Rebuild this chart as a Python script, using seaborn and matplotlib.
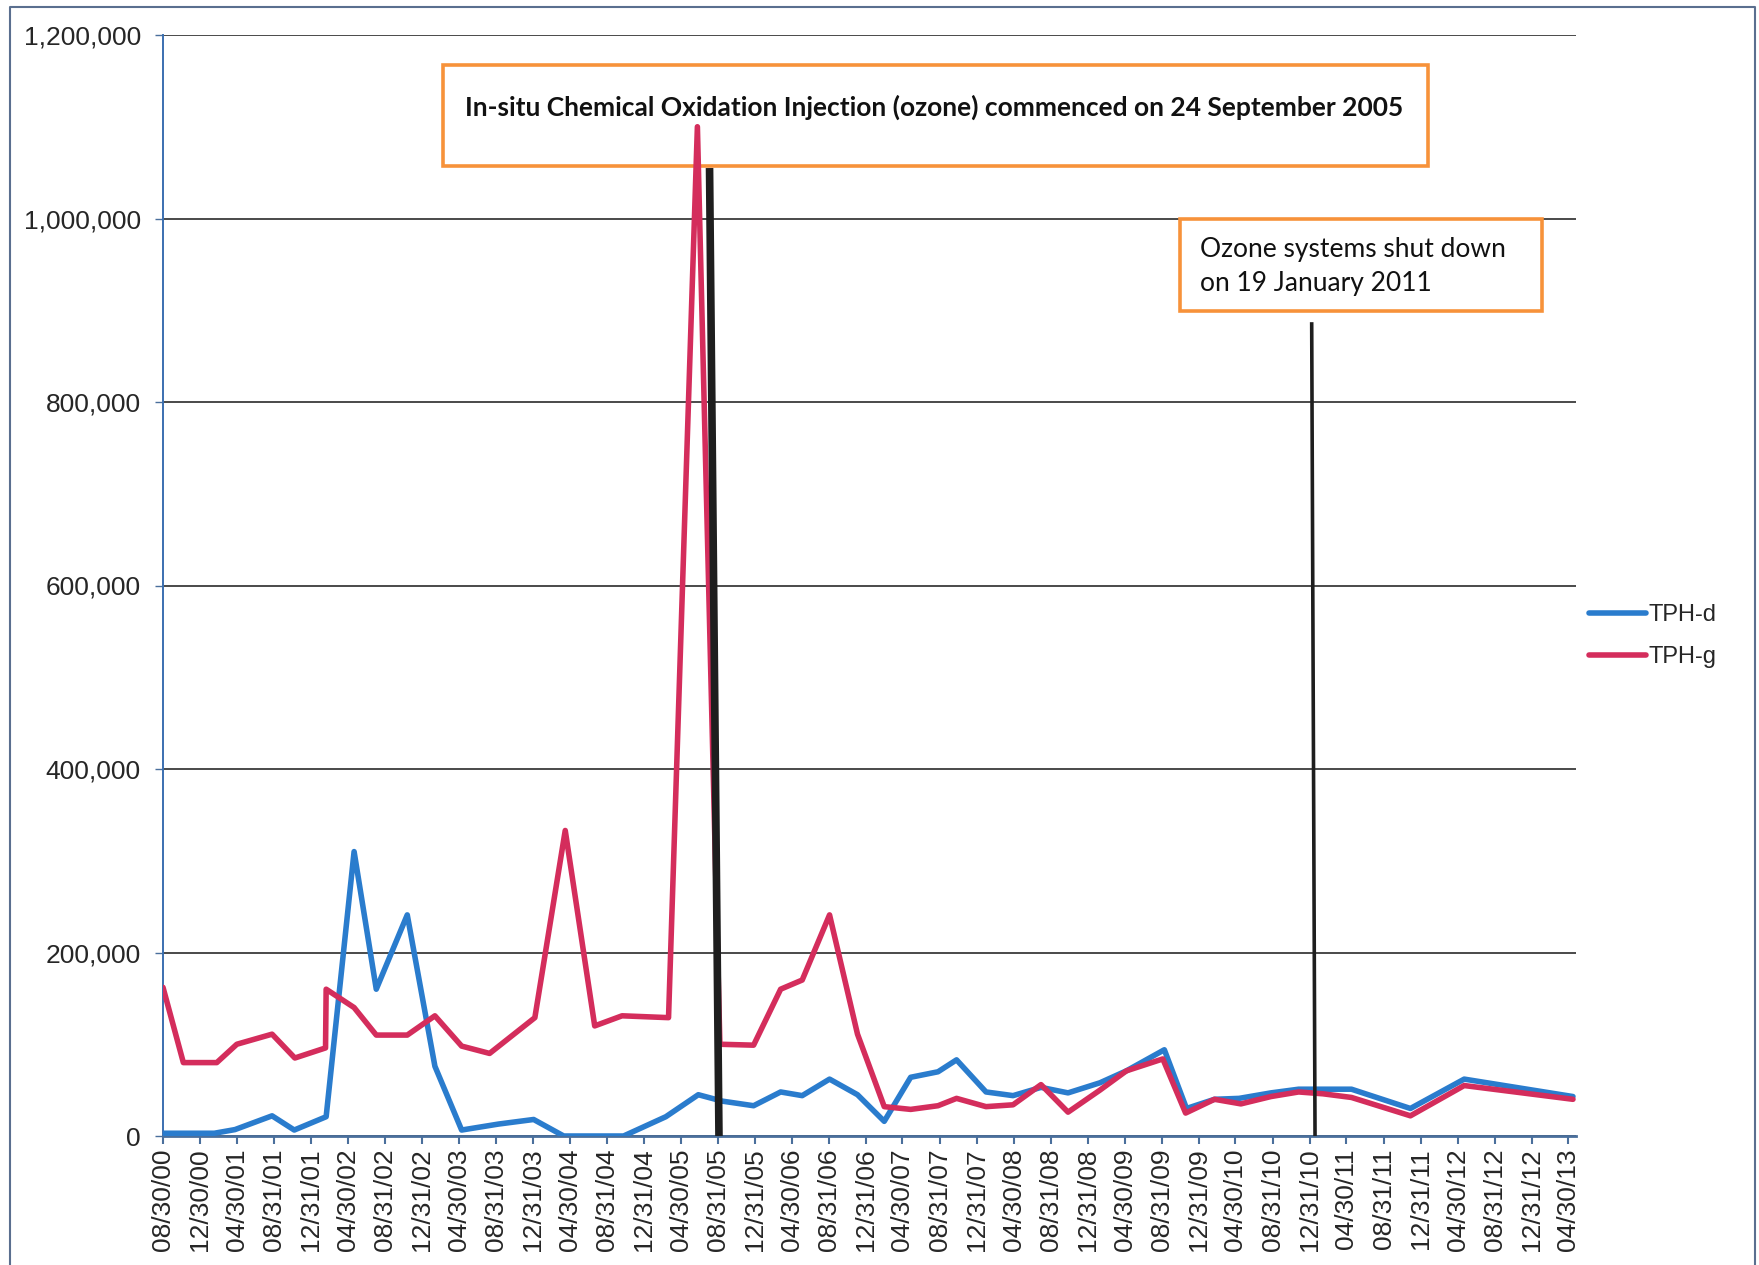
import pandas as pd
import numpy as np
import matplotlib.pyplot as plt
import matplotlib.dates as mdates
from matplotlib.patches import Rectangle
from matplotlib.ticker import FuncFormatter
import seaborn as sns

# TPH-d (diesel) readings
tph_d_dates = ["2000-08-30", "2001-02-15", "2001-04-24", "2001-08-24", "2001-11-05",
               "2002-02-18", "2002-05-21", "2002-08-02", "2002-11-12", "2003-02-11",
               "2003-05-10", "2003-09-08", "2004-01-02", "2004-04-10", "2004-10-24",
               "2005-03-12", "2005-06-27", "2005-09-14", "2005-12-26", "2006-03-25",
               "2006-06-04", "2006-09-02", "2006-12-03", "2007-03-01", "2007-05-27",
               "2007-08-25", "2007-10-25", "2008-01-30", "2008-04-28", "2008-07-29",
               "2008-10-26", "2009-02-08", "2009-05-06", "2009-09-08", "2009-11-20",
               "2010-02-20", "2010-05-12", "2010-08-25", "2010-11-24", "2011-02-12",
               "2011-05-17", "2011-11-27", "2012-05-22", "2013-05-15"]
tph_d_values = [3000, 3000, 7000, 22000, 6500,
                21000, 310000, 160000, 241000, 76000,
                6500, 13000, 18000, 0, 0,
                21000, 45000, 38000, 33000, 48000,
                44000, 62000, 45000, 16000, 64000,
                70000, 83000, 48000, 44000, 53000,
                47000, 58000, 71000, 94000, 30000,
                40000, 41000, 47000, 51000, 51000,
                51000, 30000, 62000, 43000]

# TPH-g (gasoline) readings
tph_g_dates = ["2000-08-30", "2000-11-05", "2001-02-23", "2001-04-30", "2001-08-24",
               "2001-11-07", "2002-02-16", "2002-02-18", "2002-05-21", "2002-08-02",
               "2002-11-12", "2003-02-11", "2003-05-10", "2003-08-10", "2004-01-06",
               "2004-04-15", "2004-07-21", "2004-10-19", "2005-03-21", "2005-06-24",
               "2005-09-06", "2005-12-26", "2006-03-25", "2006-06-04", "2006-09-02",
               "2006-12-03", "2007-03-01", "2007-05-27", "2007-08-25", "2007-10-25",
               "2008-01-30", "2008-04-28", "2008-07-29", "2008-10-26", "2009-02-08",
               "2009-05-06", "2009-09-03", "2009-11-17", "2010-02-20", "2010-05-18",
               "2010-08-25", "2010-11-24", "2011-02-12", "2011-05-17", "2011-11-27",
               "2012-05-22", "2013-05-15"]
tph_g_values = [162000, 80000, 80000, 100000, 111000,
                85000, 96000, 160000, 140000, 110000,
                110000, 131000, 98000, 90000, 129000,
                333000, 120000, 131000, 129000, 1100000,
                100000, 99000, 160000, 170000, 241000,
                111000, 32000, 29000, 33000, 41000,
                32000, 34000, 56000, 26000, 50000,
                71000, 84000, 25000, 40000, 35000,
                43000, 48000, 46000, 42000, 22000,
                55000, 40000]

tick_dates = ["2000-08-30", "2000-12-30", "2001-04-30", "2001-08-31", "2001-12-31",
              "2002-04-30", "2002-08-31", "2002-12-31", "2003-04-30", "2003-08-31",
              "2003-12-31", "2004-04-30", "2004-08-31", "2004-12-31", "2005-04-30",
              "2005-08-31", "2005-12-31", "2006-04-30", "2006-08-31", "2006-12-31",
              "2007-04-30", "2007-08-31", "2007-12-31", "2008-04-30", "2008-08-31",
              "2008-12-31", "2009-04-30", "2009-08-31", "2009-12-31", "2010-04-30",
              "2010-08-31", "2010-12-31", "2011-04-30", "2011-08-31", "2011-12-31",
              "2012-04-30", "2012-08-31", "2012-12-31", "2013-04-30"]
y_ticks = [0, 200000, 400000, 600000, 800000, 1000000, 1200000]

# event markers: (top date, bottom date, top value)
injection_line = ("2005-08-03", "2005-09-03", 1055000)
shutdown_line = ("2011-01-06", "2011-01-17", 887000)
injection_text = "In-situ Chemical Oxidation Injection (ozone) commenced on 24 September 2005"
shutdown_text = "Ozone systems shut down\non 19 January 2011"

df = pd.concat([
    pd.DataFrame({"date": pd.to_datetime(tph_d_dates), "value": tph_d_values, "series": "TPH-d"}),
    pd.DataFrame({"date": pd.to_datetime(tph_g_dates), "value": tph_g_values, "series": "TPH-g"}),
])

sns.set_style("white")
plt.rcParams["font.family"] = ["Liberation Sans", "DejaVu Sans"]

W, H = 1759, 1265
fig = plt.figure(figsize=(W / 100, H / 100), dpi=100)
ax = fig.add_axes([163 / W, 1 - 1136 / H, (1576 - 163) / W, (1136 - 35) / H])

ax.set_ylim(0, 1200000)
ax.set_yticks(y_ticks)
ax.yaxis.set_major_formatter(FuncFormatter(lambda v, p: f"{int(v):,}"))
ax.grid(axis="y", color="#2b2b2b", linewidth=1.2, zorder=0)
ax.set_axisbelow(True)

# annotation boxes sit above the grid but under the data lines
ax.add_patch(Rectangle((0.198, 0.881), 0.697, 0.092, transform=ax.transAxes,
                       facecolor="white", edgecolor="#f7923a", linewidth=2.6, zorder=1.5))
ax.add_patch(Rectangle((0.720, 0.749), 0.256, 0.084, transform=ax.transAxes,
                       facecolor="white", edgecolor="#f7923a", linewidth=2.6, zorder=1.5))

sns.lineplot(data=df, x="date", y="value", hue="series", estimator=None,
             palette={"TPH-d": "#2a7ccd", "TPH-g": "#d42d5c"},
             linewidth=4, ax=ax, zorder=3)

for (d_top, d_bot, top), lw in [(injection_line, 5.5), (shutdown_line, 2.6)]:
    ax.plot(pd.to_datetime([d_top, d_bot]), [top, 0], color="#1e1e1e", linewidth=lw,
            solid_capstyle="butt", zorder=4)

ax.text(0.546, 0.9346, injection_text, transform=ax.transAxes, ha="center", va="center",
        fontsize=19, fontweight="bold", family=["Lato", "DejaVu Sans"], color="#111111", zorder=5)
ax.text(0.734, 0.790, shutdown_text, transform=ax.transAxes, ha="left", va="center",
        fontsize=19, family=["Lato", "DejaVu Sans"], color="#111111", linespacing=1.45, zorder=5)

ax.set_xlim(pd.Timestamp("2000-08-30"), pd.Timestamp("2013-05-25"))
ticks = pd.to_datetime(tick_dates)
ax.set_xticks(ticks)
ax.set_xticklabels([t.strftime("%m/%d/%y") for t in ticks], rotation=90)

ax.tick_params(axis="x", direction="out", length=6, width=1.5, color="#4a6f9c",
               labelsize=19, pad=3, bottom=True)
ax.tick_params(axis="y", length=6, width=1, color="#4a6f9c", labelsize=19, pad=10, left=True)
ax.set_xlabel("")
ax.set_ylabel("")

for s in ["top", "right"]:
    ax.spines[s].set_visible(False)
ax.spines["left"].set_color("#3b6fb0")
ax.spines["left"].set_linewidth(1.4)
ax.spines["bottom"].set_color("#4a6f9c")
ax.spines["bottom"].set_linewidth(2)

leg = ax.legend(loc="center left", bbox_to_anchor=(1568 / W, 1 - 636 / H),
                bbox_transform=fig.transFigure, frameon=False, fontsize=17,
                handlelength=2.4, handletextpad=0.1, labelspacing=0.85)
for line in leg.get_lines():
    line.set_linewidth(4)

# chart area border
fig.add_artist(plt.Line2D([10 / W, 10 / W, 1755 / W, 1755 / W],
                          [0, 1 - 7 / H, 1 - 7 / H, 0], transform=fig.transFigure,
                          color="#5a6f8f", linewidth=1.5))

fig.savefig("out.png", dpi=100)
